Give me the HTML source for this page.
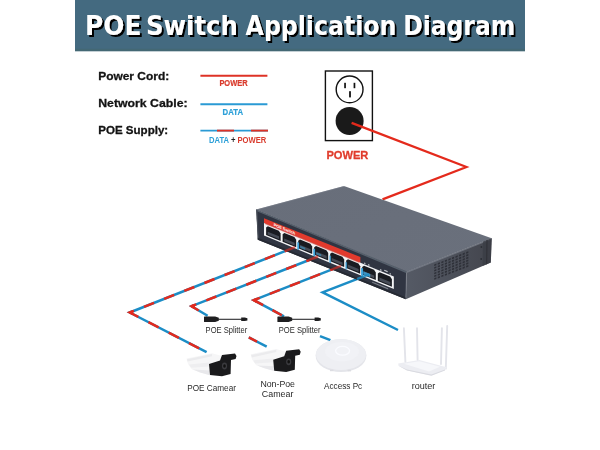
<!DOCTYPE html>
<html>
<head>
<meta charset="utf-8">
<title>POE Switch Application Diagram</title>
<style>
html,body{margin:0;padding:0;background:#fff;}
body{width:600px;height:450px;overflow:hidden;position:relative;}
svg{position:absolute;left:0;top:0;display:block;}
text{font-family:"Liberation Sans",sans-serif;}
.b{font-weight:bold;}
</style>
</head>
<body>
<svg width="600" height="450" viewBox="0 0 600 450">
<defs>
  <linearGradient id="gTop" x1="0" y1="0" x2="1" y2="1">
    <stop offset="0" stop-color="#686e7a"/>
    <stop offset="1" stop-color="#6a707c"/>
  </linearGradient>
  <linearGradient id="gSide" x1="0" y1="0" x2="1" y2="0">
    <stop offset="0" stop-color="#555a65"/>
    <stop offset="0.5" stop-color="#4d515b"/>
    <stop offset="1" stop-color="#43454d"/>
  </linearGradient>
  <filter id="sh" x="-5%" y="-20%" width="110%" height="150%">
    <feOffset in="SourceAlpha" dx="1.8" dy="1.8" result="o"/>
    <feFlood flood-color="#000"/>
    <feComposite in2="o" operator="in" result="s"/>
    <feMerge><feMergeNode in="s"/><feMergeNode in="SourceGraphic"/></feMerge>
  </filter>
</defs>
<rect x="0" y="0" width="600" height="450" fill="#fff"/>

<!-- header -->
<rect x="75" y="0" width="450" height="51.2" fill="#446a80"/>
<rect x="75" y="48.8" width="450" height="2.4" fill="#44686f" opacity="0.7"/>
<g font-weight="bold" font-size="27" fill="#fff" filter="url(#sh)">
<text y="34.5" style="font-family:'DejaVu Sans','Liberation Sans',sans-serif"><tspan x="85" textLength="56.4" lengthAdjust="spacingAndGlyphs">POE</tspan> <tspan x="146" textLength="91.9" lengthAdjust="spacingAndGlyphs">Switch</tspan> <tspan x="245.6" textLength="150.8" lengthAdjust="spacingAndGlyphs">Application</tspan> <tspan x="403.2" textLength="112" lengthAdjust="spacingAndGlyphs">Diagram</tspan></text>
</g>

<!-- legend -->
<g class="b" font-size="11.6" fill="#111" stroke="#111" stroke-width="0.3" opacity="0.99">
<text x="98.2" y="79.9" textLength="71" lengthAdjust="spacingAndGlyphs">Power Cord:</text>
<text x="98.2" y="107" textLength="89.4" lengthAdjust="spacingAndGlyphs">Network Cable:</text>
<text x="98.2" y="134" textLength="70" lengthAdjust="spacingAndGlyphs">POE Supply:</text>
</g>
<line x1="200.4" y1="75.8" x2="267.4" y2="75.8" stroke="#de3226" stroke-width="1.9"/>
<line x1="200.4" y1="104.2" x2="267.4" y2="104.2" stroke="#2a9ad4" stroke-width="1.9"/>
<line x1="200.4" y1="130.6" x2="268" y2="130.6" stroke="#2a9ad4" stroke-width="1.9"/>
<line x1="217" y1="130.6" x2="234" y2="130.6" stroke="#de3226" stroke-width="1.9"/>
<line x1="251" y1="130.6" x2="268" y2="130.6" stroke="#de3226" stroke-width="1.9"/>
<g class="b" font-size="8.2" stroke-width="0.2" opacity="0.99">
<text x="219.4" y="86.4" fill="#d9382a" stroke="#d9382a" textLength="28.2" lengthAdjust="spacingAndGlyphs">POWER</text>
<text x="222.6" y="115" fill="#2a9fd8" stroke="#2a9fd8" textLength="20.4" lengthAdjust="spacingAndGlyphs">DATA</text>
<text x="209" y="142.8" textLength="57.4" lengthAdjust="spacingAndGlyphs"><tspan fill="#2a9fd8">DATA</tspan><tspan fill="#222"> + </tspan><tspan fill="#d9382a">POWER</tspan></text>
</g>

<!-- outlet -->
<rect x="325.4" y="71" width="47" height="69.6" fill="#fff" stroke="#111" stroke-width="1.4"/>
<circle cx="349.6" cy="89.4" r="13.4" fill="#fff" stroke="#111" stroke-width="1.4"/>
<rect x="344.2" y="82.8" width="1.7" height="5.4" fill="#111"/>
<rect x="353.6" y="82.8" width="1.7" height="5.4" fill="#111"/>
<rect x="349.1" y="91.2" width="1.8" height="6.2" fill="#111"/>
<circle cx="349.6" cy="121" r="14" fill="#1a1a1a"/>
<text class="b" x="326.4" y="158.9" font-size="11.6" fill="#e03a2a" stroke="#e03a2a" stroke-width="0.3" textLength="42" lengthAdjust="spacingAndGlyphs" opacity="0.99">POWER</text>

<!-- power cord -->
<polyline points="351.6,122.9 466.5,167 382.5,199.4" fill="none" stroke="#e42a1c" stroke-width="2.2" stroke-linejoin="miter"/>

<!-- cables -->
<g fill="none" stroke-width="2.5" stroke-linecap="butt" stroke-linejoin="miter">
  <g stroke="#1c8dc6">
    <polyline points="290.0,249.2 129.7,312.5 206.6,352.2"/>
    <polyline points="313.0,258.5 191.6,306.2 207.6,315.8"/>
    <polyline points="336.0,267.9 253.8,300.2 284.0,316.4"/>
    <line x1="248.8" y1="337.4" x2="266.7" y2="346.6"/>
    <polyline points="362.0,277.1 322.6,292.3 398.0,330.0"/>
    <line x1="320" y1="336.2" x2="330.4" y2="340.2"/>
  </g>
  <g stroke="#e22a1e">
    <path d="M129.7,312.5 L290.0,249.2" stroke-dasharray="10.83 10.83" stroke-dashoffset="6.3"/>
    <path d="M191.6,306.2 L313.0,258.5" stroke-dasharray="10.75 10.75" stroke-dashoffset="5.75"/>
    <path d="M253.8,300.2 L336.0,267.9" stroke-dasharray="10.8 10.8" stroke-dashoffset="4.4"/>
    <path d="M129.7,312.5 L206.6,352.2" stroke-dasharray="11.4 11.4" stroke-dashoffset="1.7"/>
    <path d="M191.6,306.2 L207.6,315.8" stroke-dasharray="11.7 11.7" stroke-dashoffset="3.4"/>
    <path d="M253.8,300.2 L284.0,316.4" stroke-dasharray="10.6 10.6" stroke-dashoffset="0"/>
    <polyline points="132.7,311.3 129.7,312.5 132.7,314.0"/>
    <polyline points="194.6,305.0 191.6,306.2 194.6,308.0"/>
    <polyline points="256.8,299.0 253.8,300.2 256.8,301.8"/>
    <line x1="248.8" y1="337.4" x2="257" y2="341.6"/>
  </g>
</g>

<!-- switch -->
<g>
  <polygon points="256.2,209.4 343.2,186.2 344.6,186.2 491.7,238.2 406.7,271.8" fill="url(#gTop)"/>
  <polygon points="256.2,209.4 343.2,186.2 344.6,186.8 257,210.3" fill="#7d848f" opacity="0.5"/>
  <polygon points="406.7,271.6 491.7,238.2 490.8,262.5 405.8,299.2" fill="url(#gSide)"/>
  <polygon points="406.7,271.6 491.7,238.2 491.6,239.6 406.7,273" fill="#7d838e" opacity="0.7"/>
  <polygon points="483,241.6 491.7,238.2 490.8,262.5 482.6,266" fill="#3a3c44" opacity="0.75"/>
  <g transform="matrix(1,-0.385,0,1,434.2,264.4)" fill="#2c2e36" opacity="0.9"><rect x="0.00" y="0.00" width="2.2" height="1.7"/><rect x="3.55" y="0.00" width="2.2" height="1.7"/><rect x="7.10" y="0.00" width="2.2" height="1.7"/><rect x="10.65" y="0.00" width="2.2" height="1.7"/><rect x="14.20" y="0.00" width="2.2" height="1.7"/><rect x="17.75" y="0.00" width="2.2" height="1.7"/><rect x="21.30" y="0.00" width="2.2" height="1.7"/><rect x="24.85" y="0.00" width="2.2" height="1.7"/><rect x="28.40" y="0.00" width="2.2" height="1.7"/><rect x="31.95" y="0.00" width="2.2" height="1.7"/><rect x="0.00" y="2.75" width="2.2" height="1.7"/><rect x="3.55" y="2.75" width="2.2" height="1.7"/><rect x="7.10" y="2.75" width="2.2" height="1.7"/><rect x="10.65" y="2.75" width="2.2" height="1.7"/><rect x="14.20" y="2.75" width="2.2" height="1.7"/><rect x="17.75" y="2.75" width="2.2" height="1.7"/><rect x="21.30" y="2.75" width="2.2" height="1.7"/><rect x="24.85" y="2.75" width="2.2" height="1.7"/><rect x="28.40" y="2.75" width="2.2" height="1.7"/><rect x="31.95" y="2.75" width="2.2" height="1.7"/><rect x="0.00" y="5.50" width="2.2" height="1.7"/><rect x="3.55" y="5.50" width="2.2" height="1.7"/><rect x="7.10" y="5.50" width="2.2" height="1.7"/><rect x="10.65" y="5.50" width="2.2" height="1.7"/><rect x="14.20" y="5.50" width="2.2" height="1.7"/><rect x="17.75" y="5.50" width="2.2" height="1.7"/><rect x="21.30" y="5.50" width="2.2" height="1.7"/><rect x="24.85" y="5.50" width="2.2" height="1.7"/><rect x="28.40" y="5.50" width="2.2" height="1.7"/><rect x="31.95" y="5.50" width="2.2" height="1.7"/><rect x="0.00" y="8.25" width="2.2" height="1.7"/><rect x="3.55" y="8.25" width="2.2" height="1.7"/><rect x="7.10" y="8.25" width="2.2" height="1.7"/><rect x="10.65" y="8.25" width="2.2" height="1.7"/><rect x="14.20" y="8.25" width="2.2" height="1.7"/><rect x="17.75" y="8.25" width="2.2" height="1.7"/><rect x="21.30" y="8.25" width="2.2" height="1.7"/><rect x="24.85" y="8.25" width="2.2" height="1.7"/><rect x="28.40" y="8.25" width="2.2" height="1.7"/><rect x="31.95" y="8.25" width="2.2" height="1.7"/><rect x="0.00" y="11.00" width="2.2" height="1.7"/><rect x="3.55" y="11.00" width="2.2" height="1.7"/><rect x="7.10" y="11.00" width="2.2" height="1.7"/><rect x="10.65" y="11.00" width="2.2" height="1.7"/><rect x="14.20" y="11.00" width="2.2" height="1.7"/><rect x="17.75" y="11.00" width="2.2" height="1.7"/><rect x="21.30" y="11.00" width="2.2" height="1.7"/><rect x="24.85" y="11.00" width="2.2" height="1.7"/><rect x="28.40" y="11.00" width="2.2" height="1.7"/><rect x="31.95" y="11.00" width="2.2" height="1.7"/><rect x="0.00" y="13.75" width="2.2" height="1.7"/><rect x="3.55" y="13.75" width="2.2" height="1.7"/><rect x="7.10" y="13.75" width="2.2" height="1.7"/><rect x="10.65" y="13.75" width="2.2" height="1.7"/><rect x="14.20" y="13.75" width="2.2" height="1.7"/><rect x="17.75" y="13.75" width="2.2" height="1.7"/><rect x="21.30" y="13.75" width="2.2" height="1.7"/><rect x="24.85" y="13.75" width="2.2" height="1.7"/><rect x="28.40" y="13.75" width="2.2" height="1.7"/><rect x="31.95" y="13.75" width="2.2" height="1.7"/></g>
  <rect x="480.6" y="246.2" width="1.6" height="1.6" fill="#2a2c32"/><rect x="480.4" y="258.2" width="1.6" height="1.6" fill="#2a2c32"/>
  <polygon points="486.4,240.3 487.6,239.8 487.2,264 486,264.5" fill="#2e3036" opacity="0.8"/>
  <polygon points="256.2,209.4 406.7,271.6 405.8,299.3 257.8,239.7" fill="#303542"/>
  <polygon points="256.2,209.4 406.7,271.6 406.7,273.2 256.2,211" fill="#56606c"/>
  <polygon points="256.2,209.4 257.4,209.9 258.8,240.1 257.8,239.7" fill="#4a5059"/>
  <polygon points="257.8,237.7 405.8,297.3 405.8,299.3 257.8,239.7" fill="#262a33"/>
  <line x1="406.5" y1="272.4" x2="405.9" y2="298.6" stroke="#858a94" stroke-width="0.8" opacity="0.8"/>
  <g transform="matrix(1,0.4115,0,1,256.2,209.6)">
    <polygon points="7.8,5.5 104.2,4.6 104.2,10.2 7.8,10.3" fill="#e23a2d"/>
    <text x="17.5" y="9.3" font-size="4.2" font-weight="bold" fill="#fff" textLength="21.5" lengthAdjust="spacingAndGlyphs">POE Switch</text>
    <rect x="7.8" y="10.2" width="129.8" height="12.6" fill="#f4f5f7"/>
    <rect x="9" y="9.6" width="94" height="1.4" fill="#e23a2d" opacity="0.55"/>
    <path d="M9.9 21.3 V13.8 l1.8 -2 H22.6 l1.8 2 V21.3 Z" fill="#191b21"/>
    <rect x="11.5" y="17.3" width="11.3" height="2.8" fill="#454a55"/>
    <path d="M26.4 21.3 V13.8 l1.8 -2 H38.2 l1.8 2 V21.3 Z" fill="#191b21"/>
    <rect x="28.0" y="17.3" width="10.4" height="2.8" fill="#454a55"/>
    <path d="M42.0 21.3 V13.8 l1.8 -2 H54.2 l1.8 2 V21.3 Z" fill="#191b21"/>
    <rect x="43.6" y="17.3" width="10.8" height="2.8" fill="#454a55"/>
    <path d="M58.0 21.3 V13.8 l1.8 -2 H70.2 l1.8 2 V21.3 Z" fill="#191b21"/>
    <rect x="59.6" y="17.3" width="10.8" height="2.8" fill="#454a55"/>
    <path d="M74.0 21.3 V13.8 l1.8 -2 H86.2 l1.8 2 V21.3 Z" fill="#191b21"/>
    <rect x="75.6" y="17.3" width="10.8" height="2.8" fill="#454a55"/>
    <path d="M90.0 21.3 V13.8 l1.8 -2 H102.2 l1.8 2 V21.3 Z" fill="#191b21"/>
    <rect x="91.6" y="17.3" width="10.8" height="2.8" fill="#454a55"/>
    <path d="M106.0 21.3 V13.8 l1.8 -2 H117.8 l1.8 2 V21.3 Z" fill="#191b21"/>
    <rect x="107.6" y="17.3" width="10.4" height="2.8" fill="#454a55"/>
    <path d="M121.6 21.3 V13.8 l1.8 -2 H133.9 l1.8 2 V21.3 Z" fill="#191b21"/>
    <rect x="123.2" y="17.3" width="10.9" height="2.8" fill="#454a55"/>
    <g fill="#3aa3dc">
      <rect x="41.1" y="15.5" width="1.8" height="7.3"/>
      <rect x="57.1" y="15.5" width="1.8" height="7.3"/>
      <rect x="73.1" y="15.5" width="1.8" height="7.3" opacity="0.75"/>
      <rect x="89.1" y="15.5" width="1.8" height="7.3" opacity="0.75"/>
      <rect x="104.9" y="15" width="2" height="7.8"/>
      <rect x="44" y="18" width="5" height="2.2" opacity="0.5"/>
      <rect x="60" y="18" width="5" height="2.2" opacity="0.5"/>
      <rect x="107" y="17.6" width="7" height="3.2" opacity="0.8"/>
    </g>
    <g fill="#cfd3d8">
      <rect x="108" y="8.4" width="1.2" height="1.4"/><rect x="112" y="8.4" width="1.2" height="1.4"/>
      <rect x="124" y="8.4" width="1.2" height="1.4"/><rect x="128" y="7.4" width="3.4" height="1.2"/><rect x="133.5" y="8.4" width="1.2" height="1.4"/>
      <rect x="116" y="24.4" width="16" height="1.1" opacity="0.5"/>
    </g>
  </g>
  <line x1="284.5" y1="251.4" x2="295.0" y2="247.2" stroke="#e22a1e" stroke-width="2.5" opacity="0.6"/>
  <line x1="307.5" y1="260.7" x2="318.0" y2="256.5" stroke="#e22a1e" stroke-width="2.5" opacity="0.6"/>
  <line x1="331.0" y1="269.9" x2="341.0" y2="265.9" stroke="#e22a1e" stroke-width="2.5" opacity="0.6"/>
  <line x1="357.0" y1="279.1" x2="369.0" y2="274.4" stroke="#1c8dc6" stroke-width="2.5" opacity="0.8"/>
</g>

<!-- splitters -->
<g>
  <path d="M204 317.2 q0 -0.6 0.6 -0.6 h10.6 l3.6 1.2 v3 l-3.6 1.3 h-10.6 q-0.6 0 -0.6 -0.6 z" fill="#1e1e20"/>
  <line x1="218" y1="319.3" x2="242" y2="319.3" stroke="#2a2a2c" stroke-width="1.1"/>
  <path d="M241.2 317.6 h3.6 l2.6 0.6 v2.2 l-2.6 0.6 h-3.6 z" fill="#1e1e20"/>
  <path d="M277.4 317.2 q0 -0.6 0.6 -0.6 h10.6 l3.6 1.2 v3 l-3.6 1.3 h-10.6 q-0.6 0 -0.6 -0.6 z" fill="#1e1e20"/>
  <line x1="291.4" y1="319.3" x2="315.4" y2="319.3" stroke="#2a2a2c" stroke-width="1.1"/>
  <path d="M314.59999999999997 317.6 h3.6 l2.6 0.6 v2.2 l-2.6 0.6 h-3.6 z" fill="#1e1e20"/>
</g>
<g font-size="9.1" fill="#262626" opacity="0.99">
  <text x="205.6" y="333.3" textLength="41.6" lengthAdjust="spacingAndGlyphs">POE Splitter</text>
  <text x="278.8" y="333.3" textLength="41.8" lengthAdjust="spacingAndGlyphs">POE Splitter</text>
  <text x="187.2" y="391.1" textLength="48.8" lengthAdjust="spacingAndGlyphs">POE Camear</text>
  <text x="260.4" y="386.8" textLength="34.6" lengthAdjust="spacingAndGlyphs">Non-Poe</text>
  <text x="261.8" y="397.1" textLength="31.6" lengthAdjust="spacingAndGlyphs">Camear</text>
  <text x="324" y="388.6" textLength="38.2" lengthAdjust="spacingAndGlyphs">Access Pc</text>
  <text x="411.7" y="388.6" textLength="23.6" lengthAdjust="spacingAndGlyphs">router</text>
</g>

<!-- cameras -->
<g>
  <polygon points="186.5,358.5 212.0,353.2 222.0,356.0 222.0,376.0 210.0,375.2 192.0,369.5 188.0,364.0" fill="#f6f6f7"/>
  <polygon points="187.0,359.2 212.0,354.0 212.0,356.2 187.6,361.6" fill="#ebebed"/>
  <polygon points="189.0,364.6 209.0,362.6 209.4,366.4 191.0,367.8" fill="#eeeef0"/>
  <polygon points="193.0,369.6 210.0,370.4 210.0,375.2 200.0,372.4" fill="#e8e8eb"/>
  <polygon points="222.0,355.0 235.0,353.5 236.5,356.0 235.6,359.0 231.0,360.0 230.6,374.0 222.0,376.2 210.0,375.0 209.0,364.0 220.0,360.4" fill="#1a1a1c"/>
  <ellipse cx="224.5" cy="366.0" rx="2.6" ry="3.4" fill="#3a3a3e"/>
  <ellipse cx="224.5" cy="366.0" rx="1.3" ry="1.8" fill="#111"/>
</g>
<g>
  <polygon points="250.7,354.3 276.2,349.0 286.2,351.8 286.2,371.8 274.2,371.0 256.2,365.3 252.2,359.8" fill="#f6f6f7"/>
  <polygon points="251.2,355.0 276.2,349.8 276.2,352.0 251.8,357.4" fill="#ebebed"/>
  <polygon points="253.2,360.4 273.2,358.4 273.6,362.2 255.2,363.6" fill="#eeeef0"/>
  <polygon points="257.2,365.4 274.2,366.2 274.2,371.0 264.2,368.2" fill="#e8e8eb"/>
  <polygon points="286.2,350.8 299.2,349.3 300.7,351.8 299.8,354.8 295.2,355.8 294.8,369.8 286.2,372.0 274.2,370.8 273.2,359.8 284.2,356.2" fill="#1a1a1c"/>
  <ellipse cx="288.7" cy="361.8" rx="2.6" ry="3.4" fill="#3a3a3e"/>
  <ellipse cx="288.7" cy="361.8" rx="1.3" ry="1.8" fill="#111"/>
</g>

<!-- access point -->
<g>
  <ellipse cx="341" cy="355.6" rx="25.4" ry="16.4" fill="#e4e5ea"/>
  <ellipse cx="341" cy="354.6" rx="25" ry="15.4" fill="#eeeff3"/>
  <ellipse cx="342" cy="351.6" rx="17" ry="9.6" fill="#f1f2f6"/>
  <ellipse cx="342.6" cy="350.8" rx="7" ry="4.4" fill="none" stroke="#fafbff" stroke-width="1.3"/>
  <rect x="330" y="369.6" width="3.4" height="1.6" fill="#dcdde2"/>
  <rect x="347.6" y="369.8" width="3.4" height="1.6" fill="#dcdde2"/>
</g>

<!-- router -->
<g>
  <g stroke="#e3e4ea" stroke-width="1.9" stroke-linecap="round" fill="none">
    <line x1="403.9" y1="328.2" x2="405.4" y2="362"/>
    <line x1="417" y1="328.2" x2="417.6" y2="360"/>
    <line x1="441.9" y1="328.2" x2="441" y2="364"/>
    <line x1="447.2" y1="326" x2="445.8" y2="368.6"/>
  </g>
  <polygon points="398.2,363.6 419.3,360 446.6,367.2 445,370 431.4,375.6 407,370.4 398.6,366" fill="#ecedf2"/>
  <polygon points="398.6,365.8 407,369.6 431.4,374.6 445,369.4 445,370.4 431.4,375.8 407,370.6" fill="#d9dae0"/>
  <polygon points="404,363.8 419.3,361.2 440,366.8 429,371.4" fill="#f6f7fa"/>
</g>
</svg>
</body>
</html>
